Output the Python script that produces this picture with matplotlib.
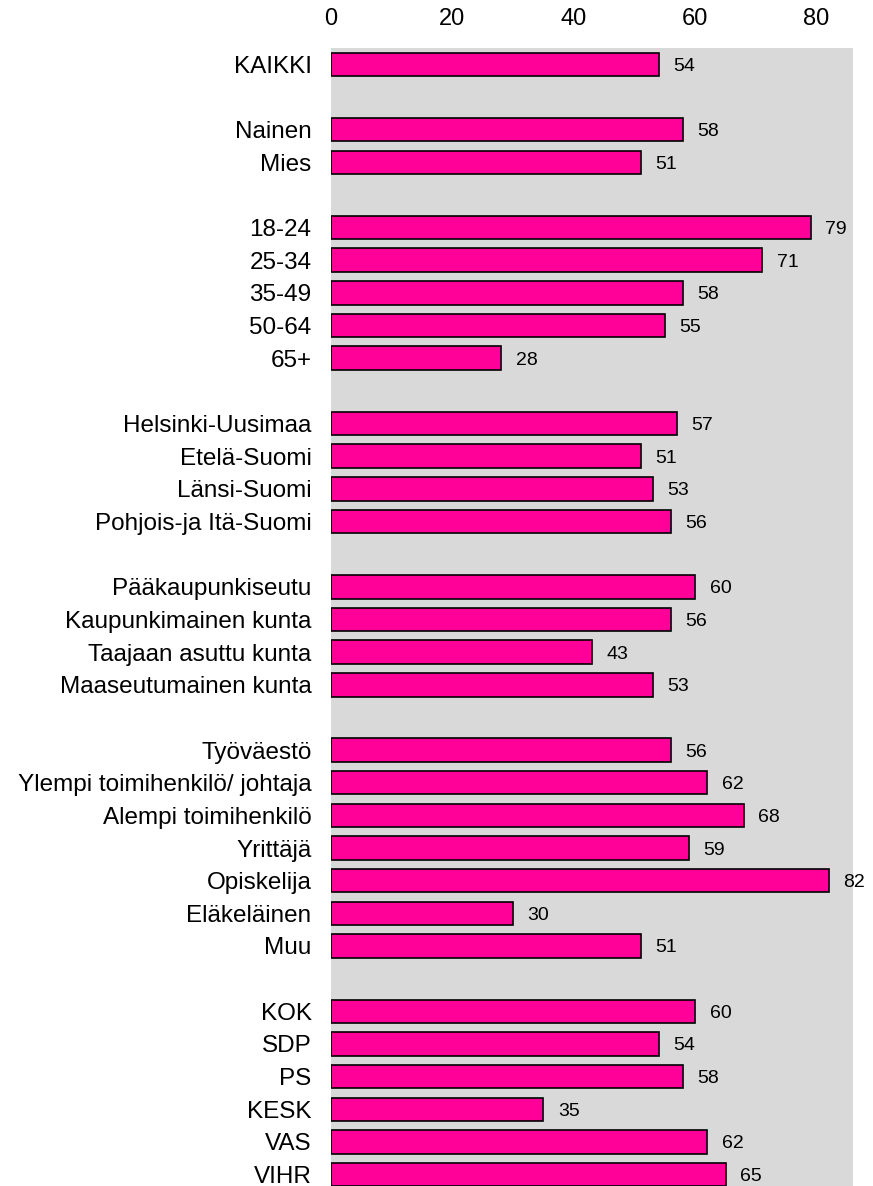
import matplotlib.pyplot as plt

labels = ['KAIKKI', '',
          'Nainen', 'Mies', '',
          '18-24', '25-34', '35-49', '50-64', '65+', '',
          'Helsinki-Uusimaa', 'Etelä-Suomi', 'Länsi-Suomi', 'Pohjois-ja Itä-Suomi', '',
          'Pääkaupunkiseutu', 'Kaupunkimainen kunta', 'Taajaan asuttu kunta', 'Maaseutumainen kunta', '',
          'Työväestö', 'Ylempi toimihenkilö/ johtaja', 'Alempi toimihenkilö', 'Yrittäjä',
          'Opiskelija', 'Eläkeläinen', 'Muu', '',
          'KOK', 'SDP', 'PS', 'KESK', 'VAS', 'VIHR']
values = [54, None,
          58, 51, None,
          79, 71, 58, 55, 28, None,
          57, 51, 53, 56, None,
          60, 56, 43, 53, None,
          56, 62, 68, 59, 82, 30, 51, None,
          60, 54, 58, 35, 62, 65]
xticks = [0, 20, 40, 60, 80]

plt.rcParams['font.family'] = ['Liberation Sans', 'DejaVu Sans']

fig = plt.figure(figsize=(8.73, 11.86), dpi=100)
ax = fig.add_axes([331/873, 0, 522/873, 1138/1186])
ax.set_facecolor('#D9D9D9')

for i, v in enumerate(values):
    if v is None:
        continue
    ax.barh(i, v, height=0.72, color='#FF0099', edgecolor='black', linewidth=1.2)
    ax.text(v + 2.4, i, str(v), va='center_baseline', ha='left', fontsize=14)

ax.set_yticks(range(len(labels)))
ax.set_yticklabels(labels, fontsize=17.5, va='center_baseline')
ax.set_ylim(34.35, -0.5)
ax.set_xlim(0, 86)
ax.set_xticks(xticks)
ax.xaxis.tick_top()
ax.tick_params(axis='x', labelsize=17, length=0, pad=13)
ax.tick_params(axis='y', length=0, pad=14)
for s in ax.spines.values():
    s.set_visible(False)

fig.savefig('out.png', dpi=100)
